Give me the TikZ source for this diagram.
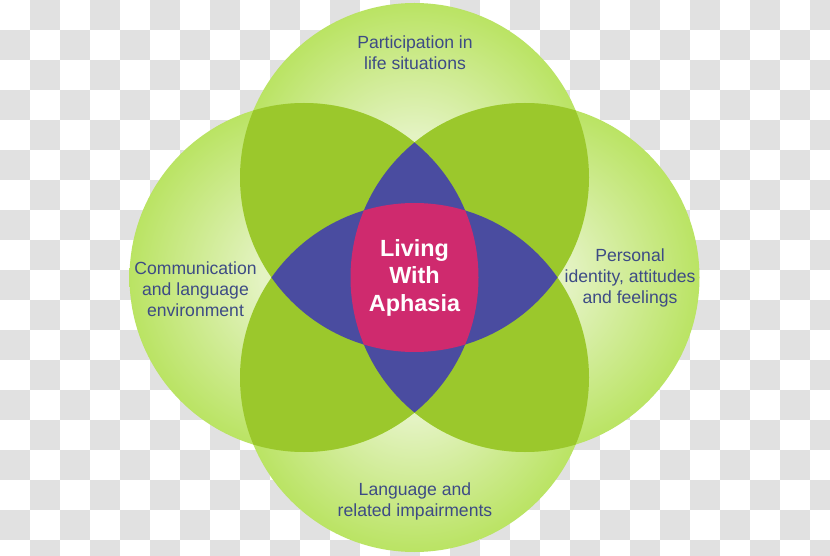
\documentclass[tikz,border=0pt]{standalone}
\usepackage{fontspec}
\setmainfont{Liberation Sans}
\definecolor{chk}{HTML}{E1E1E1}
\definecolor{pale}{HTML}{E4F3C3}
\definecolor{lime}{HTML}{A6DC36}
\definecolor{dkgreen}{HTML}{9BC82C}
\definecolor{lensblue}{HTML}{4A4CA0}
\definecolor{corepink}{HTML}{CF2A6E}
\definecolor{labeltext}{HTML}{3D4B85}
\pgfdeclareradialshading{circshade}{\pgfpoint{0bp}{0bp}}{color(0bp)=(pale); color(6bp)=(pale); color(34bp)=(lime); color(50bp)=(lime)}
\begin{document}
\begin{tikzpicture}[x=1pt,y=1pt,
  circ/.style={shading=circshade},
  overlap/.style={fill=dkgreen},
  triple/.style={fill=lensblue},
  quad/.style={fill=corepink},
  lbl/.style={text=labeltext, align=center, font=\fontsize{17.6}{21}\selectfont, inner sep=0pt},
  ctr/.style={text=white, align=center, font=\bfseries\fontsize{23.4}{27.8}\selectfont, inner sep=0pt}]
\useasboundingbox (0,0) rectangle (830,555);
% transparent-style checkerboard background
\begin{scope}
  \clip (0,0) rectangle (830,555);
  \fill[white] (0,0) rectangle (830,555);
  \foreach \i in {0,...,27}{
    \foreach \j in {0,...,18}{
      \pgfmathtruncatemacro\chkodd{mod(\i+\j,2)}
      \ifnum\chkodd=1 \fill[chk] ({30*\i},{525-30*\j}) rectangle ++(30,30); \fi
    }
  }
\end{scope}
% circle centres
\def\rr{174.5}
\coordinate (T) at (414.5,377.5);
\coordinate (B) at (414.5,177.5);
\coordinate (L) at (304,277.5);
\coordinate (R) at (525,277.5);
% single circles
\foreach \c in {T,B,L,R} \shade[circ] (\c) circle (\rr);
% pairwise overlaps
\begin{scope}
  \clip (T) circle (\rr);
  \fill[overlap] (L) circle (\rr);
  \fill[overlap] (R) circle (\rr);
\end{scope}
\begin{scope}
  \clip (B) circle (\rr);
  \fill[overlap] (L) circle (\rr);
  \fill[overlap] (R) circle (\rr);
\end{scope}
% triple overlaps
\begin{scope}
  \clip (L) circle (\rr);
  \fill[triple] (R) circle (\rr);
\end{scope}
\begin{scope}
  \clip (T) circle (\rr);
  \fill[triple] (B) circle (\rr);
\end{scope}
% all four
\begin{scope}
  \clip (T) circle (\rr);
  \clip (B) circle (\rr);
  \clip (L) circle (\rr);
  \fill[quad] (R) circle (\rr);
\end{scope}
% labels
\node[lbl] (part) at (415,502.7) {Participation in\\life situations};
\node[lbl] (lang) at (415,53.3) {Language and\\related impairments};
\node[lbl] (comm) at (195.5,266.1) {Communication\\and language\\environment};
\node[lbl] (pers) at (630,276.6) {Personal\\identity, attitudes\\and feelings};
\node[ctr] (core) at (414.5,277.2) {Living\\With\\Aphasia};
\end{tikzpicture}
\end{document}
